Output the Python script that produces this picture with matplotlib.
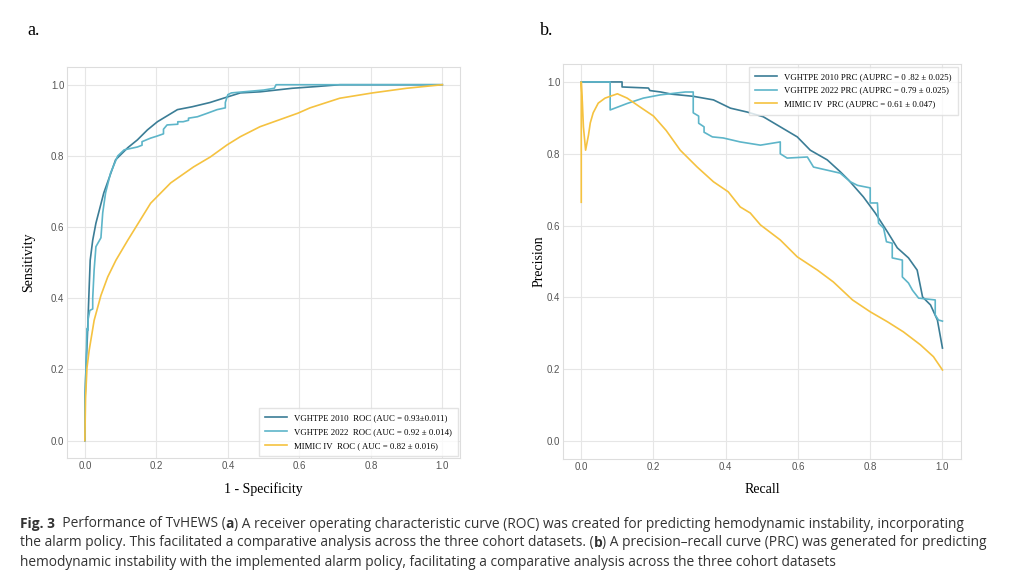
import matplotlib
matplotlib.use("Agg")
import matplotlib.pyplot as plt

# ROC curves (panel a)
roc_2010_fpr = [0, 0.0, 0.003, 0.008, 0.011, 0.015, 0.022, 0.031, 0.053, 0.086, 0.12, 0.147, 0.175,
                0.203, 0.259, 0.30, 0.35, 0.40, 0.435, 0.49, 0.58, 0.65, 0.713, 1.0]
roc_2010_tpr = [0, 0.10, 0.197, 0.315, 0.40, 0.507, 0.563, 0.611, 0.696, 0.789, 0.823, 0.845, 0.873,
                0.896, 0.930, 0.938, 0.95, 0.966, 0.977, 0.98, 0.99, 0.995, 1.0, 1.0]

roc_2022_fpr = [0, 0.0, 0.003, 0.006, 0.009, 0.009, 0.014, 0.022, 0.022, 0.026, 0.031, 0.045, 0.05,
                0.058, 0.072, 0.092, 0.11, 0.147, 0.16, 0.16, 0.184, 0.20, 0.22, 0.22, 0.23, 0.26,
                0.26, 0.275, 0.29, 0.29, 0.315, 0.343, 0.37, 0.393, 0.393, 0.40, 0.41, 0.5, 0.53,
                0.535, 1.0]
roc_2022_tpr = [0, 0.10, 0.20, 0.315, 0.31, 0.34, 0.366, 0.37, 0.40, 0.48, 0.545, 0.57, 0.64,
                0.696, 0.752, 0.80, 0.817, 0.825, 0.83, 0.84, 0.85, 0.855, 0.862, 0.875, 0.887, 0.889,
                0.896, 0.896, 0.90, 0.906, 0.91, 0.92, 0.93, 0.935, 0.95, 0.972, 0.977, 0.985, 0.99,
                1.0, 1.0]

roc_mimic_fpr = [0, 0.002, 0.006, 0.012, 0.026, 0.045, 0.064, 0.087, 0.12, 0.184, 0.24, 0.304, 0.351,
                 0.398, 0.435, 0.49, 0.596, 0.63, 0.713, 0.805, 0.9, 1.0]
roc_mimic_tpr = [0, 0.12, 0.205, 0.253, 0.338, 0.408, 0.46, 0.507, 0.563, 0.667, 0.724, 0.769, 0.797,
                 0.831, 0.854, 0.882, 0.92, 0.935, 0.962, 0.977, 0.99, 1.0]

# PR curves (panel b)
prc_2010_rec = [0, 0.113, 0.113, 0.186, 0.19, 0.22, 0.25, 0.31, 0.366, 0.413, 0.46, 0.504, 0.551,
                0.598, 0.634, 0.681, 0.717, 0.74, 0.781, 0.814, 0.848, 0.875, 0.906, 0.93, 0.945,
                0.967, 0.986, 1.0]
prc_2010_prec = [1.0, 1.0, 0.986, 0.983, 0.976, 0.972, 0.966, 0.96, 0.95, 0.927, 0.916, 0.903, 0.875,
                 0.847, 0.81, 0.783, 0.75, 0.727, 0.68, 0.635, 0.582, 0.538, 0.51, 0.476, 0.401,
                 0.379, 0.337, 0.259]

prc_2022_rec = [0, 0.08, 0.08, 0.127, 0.172, 0.219, 0.288, 0.31, 0.31, 0.325, 0.325, 0.34, 0.34,
                0.363, 0.393, 0.44, 0.496, 0.551, 0.551, 0.57, 0.626, 0.643, 0.717, 0.745, 0.765,
                0.80, 0.80, 0.82, 0.823, 0.837, 0.845, 0.861, 0.861, 0.889, 0.889, 0.906, 0.917,
                0.934, 0.98, 0.98, 0.989, 1.0]
prc_2022_prec = [1.0, 1.0, 0.922, 0.94, 0.955, 0.964, 0.972, 0.972, 0.914, 0.905, 0.885, 0.875, 0.86,
                 0.847, 0.844, 0.833, 0.824, 0.833, 0.80, 0.788, 0.791, 0.763, 0.746, 0.722, 0.712,
                 0.705, 0.663, 0.663, 0.607, 0.593, 0.555, 0.551, 0.51, 0.504, 0.457, 0.44, 0.42,
                 0.398, 0.393, 0.351, 0.337, 0.334]

prc_mimic_rec = [0, 0, 0.003, 0.006, 0.012, 0.02, 0.025, 0.033, 0.047, 0.066, 0.1, 0.127, 0.163, 0.2,
                 0.235, 0.274, 0.321, 0.366, 0.407, 0.44, 0.468, 0.496, 0.551, 0.598, 0.654, 0.698,
                 0.751, 0.8, 0.848, 0.892, 0.939, 0.975, 1.0]
prc_mimic_prec = [0.665, 1.0, 0.944, 0.875, 0.81, 0.852, 0.886, 0.914, 0.941, 0.955, 0.967, 0.955,
                  0.93, 0.905, 0.865, 0.81, 0.763, 0.722, 0.694, 0.652, 0.635, 0.602, 0.56, 0.513,
                  0.476, 0.443, 0.393, 0.36, 0.332, 0.304, 0.268, 0.235, 0.198]

roc_labels = ["VGHTPE 2010  ROC (AUC = 0.93\u00b10.011)",
              "VGHTPE 2022  ROC (AUC = 0.92 \u00b1 0.014)",
              "MIMIC IV  ROC ( AUC = 0.82 \u00b1 0.016)"]
prc_labels = ["VGHTPE 2010 PRC (AUPRC = 0 .82 \u00b1 0.025)",
              "VGHTPE 2022 PRC (AUPRC = 0.79 \u00b1 0.025)",
              "MIMIC IV  PRC (AUPRC = 0.61 \u00b1 0.047)"]
ticks = [0.0, 0.2, 0.4, 0.6, 0.8, 1.0]

# caption, as (text, bold) pieces per line
caption = [
    [("Fig. 3", True), ("  Performance of TvHEWS (", False), ("a", True),
     (") A receiver operating characteristic curve (ROC) was created for predicting "
      "hemodynamic instability, incorporating", False)],
    [("the alarm policy. This facilitated a comparative analysis across the three cohort "
      "datasets. (", False), ("b", True),
     (") A precision\u2013recall curve (PRC) was generated for predicting", False)],
    [("hemodynamic instability with the implemented alarm policy, facilitating a comparative "
      "analysis across the three cohort datasets", False)],
]

c_2010 = "#3b7d96"
c_2022 = "#5db5c9"
c_mimic = "#f5c240"

fig = plt.figure(figsize=(10.24, 5.87), dpi=100)
ax1 = fig.add_axes([0.0654, 0.219, 0.384, 0.667])
ax2 = fig.add_axes([0.550, 0.218, 0.388, 0.673])

serif = "Liberation Serif"
leg_kw = dict(prop={"family": serif, "size": 6.3}, frameon=True, edgecolor="#dddddd",
              fancybox=False, handlelength=2.5, labelspacing=0.65, borderpad=0.7,
              borderaxespad=0.3)


def style(ax):
    ax.set_xlim(-0.05, 1.05)
    ax.set_ylim(-0.05, 1.05)
    ax.set_xticks(ticks)
    ax.set_yticks(ticks)
    ax.grid(True, color="#e6e6e6", linewidth=0.8)
    ax.set_axisbelow(True)
    ax.tick_params(length=0, labelsize=7, labelcolor="#555555", pad=2)
    for lab in ax.get_xticklabels() + ax.get_yticklabels():
        lab.set_fontfamily("Liberation Sans")
    for s in ax.spines.values():
        s.set_color("#dddddd")
        s.set_linewidth(0.8)


ax1.plot(roc_2010_fpr, roc_2010_tpr, color=c_2010, lw=1.2, label=roc_labels[0])
ax1.plot(roc_2022_fpr, roc_2022_tpr, color=c_2022, lw=1.2, label=roc_labels[1])
ax1.plot(roc_mimic_fpr, roc_mimic_tpr, color=c_mimic, lw=1.2, label=roc_labels[2])
style(ax1)
ax1.set_xlabel("1 - Specificity", fontfamily=serif, fontsize=10, labelpad=8)
ax1.set_ylabel("Sensitivity", fontfamily=serif, fontsize=10, labelpad=11)
ax1.legend(loc="lower right", **leg_kw)

ax2.plot(prc_2010_rec, prc_2010_prec, color=c_2010, lw=1.2, label=prc_labels[0])
ax2.plot(prc_2022_rec, prc_2022_prec, color=c_2022, lw=1.2, label=prc_labels[1])
ax2.plot(prc_mimic_rec, prc_mimic_prec, color=c_mimic, lw=1.2, label=prc_labels[2])
style(ax2)
ax2.set_xlabel("Recall", fontfamily=serif, fontsize=10, labelpad=8)
ax2.set_ylabel("Precision", fontfamily=serif, fontsize=10, labelpad=1)
ax2.legend(loc="upper right", **leg_kw)

fig.text(0.027, 0.94, "a.", fontfamily=serif, fontsize=13)
fig.text(0.527, 0.94, "b.", fontfamily=serif, fontsize=13)

# draw caption piece by piece so bold words sit inline
renderer = fig.canvas.get_renderer()
for i, pieces in enumerate(caption):
    x = 20
    y = 587 - (524 + 19 * i)
    for txt, bold in pieces:
        t = fig.text(x / 1024, y / 587, txt, fontfamily="Open Sans", fontsize=9.9,
                     fontweight="bold" if bold else "normal", color="#333333", va="center")
        x += t.get_window_extent(renderer).width

fig.savefig("out.png", dpi=100)
